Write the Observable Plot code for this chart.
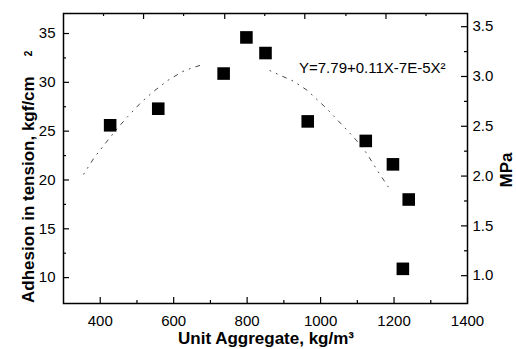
<!DOCTYPE html>
<html><head><meta charset="utf-8">
<script src="https://cdn.jsdelivr.net/npm/d3@7"></script>
<script src="https://cdn.jsdelivr.net/npm/@observablehq/plot@0.6"></script>
<style>body{margin:0;background:#fff} svg{display:block}</style>
</head><body><div id="chart"></div>
<script>
// measured points
const aggregate = [427, 558, 736, 798, 850, 965, 1123, 1197, 1240, 1224];
const adhesion  = [25.6, 27.3, 30.9, 34.6, 33.0, 26.0, 24.0, 21.6, 18.0, 10.9];
// fitted curve as drawn (gap near the peak, as in the figure)
const fitX = [355, 382, 415, 447, 475, 510, 543, 584, 624, 652, 685, 770, 862, 927, 963, 1017, 1072, 1099, 1126, 1154, 1184];
const fitY = [20.6, 22.2, 23.8, 25.3, 26.5, 27.9, 29.0, 30.2, 31.1, 31.5, 31.9, null, 31.2, 30.1, 29.2, 27.3, 25.1, 24.0, 22.7, 21.0, 19.3];
// ticks
const xTicks = [400, 600, 800, 1000, 1200, 1400];
const xMinor = [500, 700, 900, 1100, 1300];
const topLong = [518, 739, 957, 1178];
const topShort = [409, 627, 848, 1069, 1287];
const yTicks = [10, 15, 20, 25, 30, 35];
const yMinor = [12.5, 17.5, 22.5, 27.5, 32.5];
const mpaTicks = [1.0, 1.5, 2.0, 2.5, 3.0, 3.5];
const mpaMinor = [1.25, 1.75, 2.25, 2.75, 3.25];
const kgfPerMPa = 10.2;
const equation = "Y=7.79+0.11X-7E-5X²";
const xTitle = "Unit Aggregate, kg/m³";
const yTitle = "Adhesion in tension, kgf/cm";
const y2Title = "MPa";

const points = aggregate.map((x, i) => ({x, y: adhesion[i]}));
const fit = fitX.map((x, i) => ({x, y: fitY[i] == null ? NaN : fitY[i]}));
const mpaPos = mpaTicks.map(m => m * kgfPerMPa);
const mpaMinorPos = mpaMinor.map(m => m * kgfPerMPa);

const W = 516, H = 349, mL = 63, mR = 49, mT = 13, mB = 46;
const fh = H - mT - mB, fw = W - mL - mR;
const id = d => d;

const chart = Plot.plot({
  width: W, height: H,
  marginLeft: mL, marginRight: mR, marginTop: mT, marginBottom: mB,
  x: {domain: [300, 1400], label: null},
  y: {domain: [7.35, 37.05], label: null},
  style: {fontFamily: "'Liberation Sans', Arial, sans-serif", fontSize: "15px", color: "#000", background: "#fff"},
  marks: [
    Plot.line(fit, {x: "x", y: "y", stroke: "#333", strokeWidth: 0.9, strokeDasharray: "1 6 1 6 4 6"}),
    Plot.dot(points, {x: "x", y: "y", symbol: "square", r: 7.1, fill: "#000", stroke: "none"}),
    Plot.text([equation], {text: id, frameAnchor: "top-right", dx: -22, dy: 55, textAnchor: "end", lineAnchor: "middle", fontSize: 15}),
    // inward ticks
    Plot.tickX(xTicks, {x: id, insetTop: fh - 6, stroke: "#000", strokeWidth: 1.2}),
    Plot.tickX(xMinor, {x: id, insetTop: fh - 3, stroke: "#000", strokeWidth: 1.2}),
    Plot.tickX(topLong, {x: id, insetBottom: fh - 6, stroke: "#000", strokeWidth: 1.2}),
    Plot.tickX(topShort, {x: id, insetBottom: fh - 3, stroke: "#000", strokeWidth: 1.2}),
    Plot.tickY(yTicks, {y: id, insetRight: fw - 6, stroke: "#000", strokeWidth: 1.2}),
    Plot.tickY(yMinor, {y: id, insetRight: fw - 3, stroke: "#000", strokeWidth: 1.2}),
    Plot.tickY(mpaPos, {y: id, insetLeft: fw - 6, stroke: "#000", strokeWidth: 1.2}),
    Plot.tickY(mpaMinorPos, {y: id, insetLeft: fw - 3, stroke: "#000", strokeWidth: 1.2}),
    Plot.axisX(xTicks, {tickSize: 0, tickPadding: 12, label: null, fontSize: 15, tickFormat: d => String(d)}),
    Plot.axisY(yTicks, {tickSize: 0, tickPadding: 8, label: null, fontSize: 15, tickFormat: d => String(d)}),
    Plot.axisY(mpaPos, {anchor: "right", tickSize: 0, tickPadding: 5, label: null, fontSize: 15,
      tickFormat: d => (d / kgfPerMPa).toFixed(1)}),
    Plot.frame({stroke: "#000", strokeWidth: 1.5})
  ]
});

const svg = d3.select(chart);
const bold = "font-weight:bold;font-size:17px;font-family:'Liberation Sans', Arial, sans-serif";
svg.append("text").attr("x", 266).attr("y", 344).attr("text-anchor", "middle")
  .attr("style", bold).text(xTitle);
const yt = svg.append("text").attr("transform", "translate(34,303) rotate(-90)")
  .attr("text-anchor", "start").attr("style", bold);
yt.append("tspan").text(yTitle);
yt.append("tspan").attr("dx", 20).attr("dy", -2).attr("font-size", 10).text("2");
svg.append("text").attr("transform", "translate(512,170) rotate(-90)")
  .attr("text-anchor", "middle").attr("style", bold).text(y2Title);

document.getElementById("chart").append(chart);
</script>
</body></html>
